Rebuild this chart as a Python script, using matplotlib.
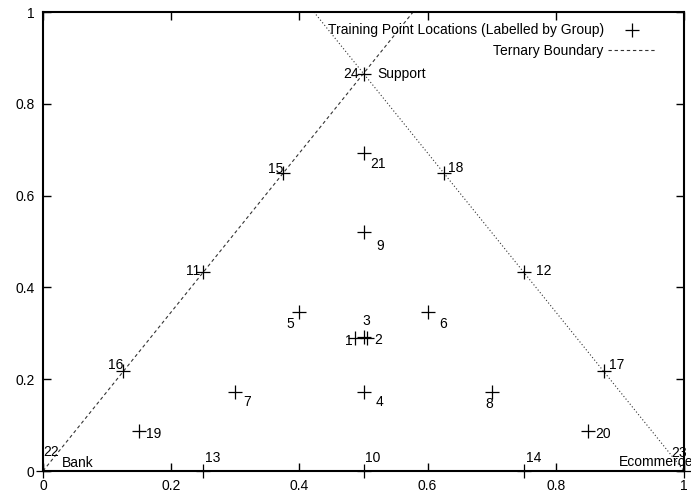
import numpy as np
import matplotlib
matplotlib.use("Agg")
import matplotlib.pyplot as plt

plt.rcParams["font.family"] = ["Liberation Sans", "DejaVu Sans"]

# training points (x, y in the ternary plane)
groups = [1, 2, 3, 4, 5, 6, 7, 8, 9, 10, 11, 12,
          13, 14, 15, 16, 17, 18, 19, 20, 21, 22, 23, 24]
xs = [0.487, 0.505, 0.5, 0.5, 0.4, 0.6, 0.3, 0.7, 0.5, 0.5, 0.25, 0.75,
      0.25, 0.75, 0.375, 0.125, 0.875, 0.625, 0.15, 0.85, 0.5, 0.0, 1.0, 0.5]
ys = [0.289, 0.289, 0.293, 0.173, 0.346, 0.346, 0.173, 0.173, 0.52, 0.0, 0.433, 0.433,
      0.0, 0.0, 0.65, 0.217, 0.217, 0.65, 0.087, 0.087, 0.693, 0.0, 0.0, 0.866]

corner_names = ["Bank", "Ecommerce", "Support"]
corner_groups = [22, 23, 24]

ticks = [0, 0.2, 0.4, 0.6, 0.8, 1]
tick_labels = ["0", "0.2", "0.4", "0.6", "0.8", "1"]

# label placement: (dx px, dy px, ha) relative to the point
label_pos = {
    1: (-3, -3, "right"), 2: (8, -2, "left"), 3: (3, 16, "center"),
    4: (12, -10, "left"), 5: (-5, -12, "right"), 6: (12, -12, "left"),
    7: (8, -10, "left"), 8: (-2, -12, "center"), 9: (13, -14, "left"),
    10: (2, 13, "left"), 11: (-3, 1, "right"), 12: (12, 1, "left"),
    13: (2, 13, "left"), 14: (2, 13, "left"), 15: (0, 4, "right"),
    16: (0, 6, "right"), 17: (5, 6, "left"), 18: (4, 5, "left"),
    19: (7, -3, "left"), 20: (7, -3, "left"), 21: (7, -11, "left"),
    22: (0, 19, "left"), 23: (3, 18, "right"), 24: (-5, 0, "right"),
}
corner_pos = {"Bank": (19, 8, "left"), "Ecommerce": (-65, 9, "left"),
              "Support": (14, 0, "left")}

fig = plt.figure(figsize=(6.91, 4.98), dpi=100)
ax = fig.add_axes([43 / 691, 27 / 498, 641 / 691, 459 / 498])

# ternary boundary: the two sides running up from Bank and Ecommerce
r3 = np.sqrt(3)
xl = np.linspace(0, 1 / r3, 50)
ax.plot(xl, r3 * xl, color="#333333", lw=0.8, dashes=(3, 2.5),
        label="Ternary Boundary")
xr = np.linspace(1 - 1 / r3, 1, 50)
ax.plot(xr, r3 * (1 - xr), color="#333333", lw=0.8, dashes=(1, 2))

ax.plot(xs, ys, "+", color="black", markersize=10, markeredgewidth=0.9,
        clip_on=False, label="Training Point Locations (Labelled by Group)")

for g, x, y in zip(groups, xs, ys):
    dx, dy, ha = label_pos[g]
    ax.annotate(str(g), (x, y), xytext=(dx, dy), textcoords="offset pixels",
                ha=ha, va="center", fontsize=10, annotation_clip=False)

for name, g in zip(corner_names, corner_groups):
    i = groups.index(g)
    dx, dy, ha = corner_pos[name]
    ax.annotate(name, (xs[i], ys[i]), xytext=(dx, dy), textcoords="offset pixels",
                ha=ha, va="center", fontsize=10, annotation_clip=False)

ax.set_xlim(0, 1)
ax.set_ylim(0, 1)
ax.set_xticks(ticks)
ax.set_xticklabels(tick_labels)
ax.set_yticks(ticks)
ax.set_yticklabels(tick_labels)
ax.tick_params(direction="in", length=6, width=1, top=True, right=True,
               labelsize=10)
ax.tick_params(axis="x", pad=6)
ax.tick_params(axis="y", pad=6)
for s in ax.spines.values():
    s.set_linewidth(1.5)

handles, labels = ax.get_legend_handles_labels()
ax.legend(handles[::-1], labels[::-1], loc="upper right",
          bbox_to_anchor=(0.955, 0.975), borderaxespad=0, borderpad=0,
          frameon=False, markerfirst=False, handlelength=3.4,
          handletextpad=0.3, labelspacing=0.45, fontsize=10)

fig.savefig("out.png", dpi=100)
